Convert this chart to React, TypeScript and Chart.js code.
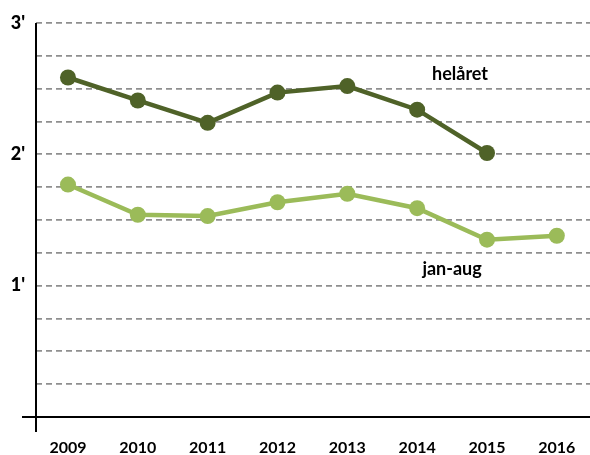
import React, { useEffect, useRef } from "react";
import { Chart, registerables } from "chart.js";

Chart.register(...registerables);

const years = [2009, 2010, 2011, 2012, 2013, 2014, 2015, 2016];
const helaret = [2.585, 2.41, 2.24, 2.47, 2.52, 2.34, 2.01, null];
const janAug = [1.77, 1.54, 1.53, 1.635, 1.70, 1.59, 1.35, 1.38];
const yLabels: Record<number, string> = { 1: "1'", 2: "2'", 3: "3'" };
const annotations = [
  { text: "helåret", year: 2014.614, value: 2.61 },
  { text: "jan-aug", year: 2014.5, value: 1.125 },
];

const FONT = "Lato, 'Open Sans', sans-serif";

const overlay = {
  id: "overlay",
  afterDraw(chart: any) {
    const { ctx, chartArea, scales } = chart;
    const x = scales.x;
    const y = scales.y;
    ctx.save();
    ctx.strokeStyle = "#000";
    ctx.lineWidth = 2;
    ctx.beginPath();
    ctx.moveTo(chartArea.left, chartArea.top);
    ctx.lineTo(chartArea.left, chartArea.bottom + 15);
    ctx.moveTo(chartArea.left - 14, chartArea.bottom);
    ctx.lineTo(chartArea.right, chartArea.bottom);
    ctx.stroke();
    ctx.fillStyle = "#000";
    ctx.font = `bold 18px ${FONT}`;
    ctx.textAlign = "center";
    ctx.textBaseline = "middle";
    annotations.forEach((a) => {
      ctx.fillText(a.text, x.getPixelForValue(a.year), y.getPixelForValue(a.value));
    });
    ctx.restore();
  },
};

export default function App() {
  const ref = useRef<HTMLCanvasElement>(null);
  useEffect(() => {
    if (!ref.current) return;
    const chart = new Chart(ref.current, {
      type: "line",
      data: {
        datasets: [
          {
            label: "helåret",
            data: years.map((yr, i) => ({ x: yr, y: helaret[i] })) as any,
            borderColor: "#4F6228",
            backgroundColor: "#4F6228",
            borderWidth: 4.5,
            pointRadius: 8,
            pointHoverRadius: 8,
            pointBorderWidth: 0,
            spanGaps: false,
          },
          {
            label: "jan-aug",
            data: years.map((yr, i) => ({ x: yr, y: janAug[i] })) as any,
            borderColor: "#9BBB59",
            backgroundColor: "#9BBB59",
            borderWidth: 4.5,
            pointRadius: 8,
            pointHoverRadius: 8,
            pointBorderWidth: 0,
          },
        ],
      },
      options: {
        responsive: false,
        animation: false,
        layout: { autoPadding: false, padding: { top: 23, right: 0, left: 0, bottom: 0 } },
        plugins: { legend: { display: false }, tooltip: { enabled: false } },
        scales: {
          x: {
            type: "linear",
            min: 2008.542,
            max: 2016.475,
            afterBuildTicks: (axis: any) => {
              axis.ticks = years.map((v) => ({ value: v }));
            },
            afterFit: (axis: any) => {
              axis.height = 38;
              axis.paddingLeft = 0;
              axis.paddingRight = 0;
            },
            grid: { display: false, drawTicks: false },
            border: { display: false },
            ticks: {
              padding: 21,
              color: "#000",
              font: { family: FONT, size: 16, weight: "bold" },
              callback: (v: any) => String(v),
              maxRotation: 0,
              autoSkip: false,
            },
          },
          y: {
            min: 0,
            max: 3,
            afterFit: (axis: any) => {
              axis.width = 36;
              axis.paddingTop = 0;
              axis.paddingBottom = 0;
            },
            grid: {
              drawTicks: false,
              color: (c: any) => (c.tick && c.tick.value === 0 ? "rgba(0,0,0,0)" : "#8f8f8f"),
              lineWidth: 1.8,
            },
            border: { display: false, dash: [6, 4] },
            ticks: {
              stepSize: 0.25,
              padding: 11,
              color: "#000",
              font: { family: FONT, size: 18, weight: "900" },
              callback: (v: any) => yLabels[v] ?? "",
              autoSkip: false,
            },
          },
        },
      },
      plugins: [overlay],
    } as any);
    return () => chart.destroy();
  }, []);
  return (
    <div style={{ position: "absolute", left: 0, top: 0, width: 590, height: 455, background: "#fff" }}>
      <canvas ref={ref} width={590} height={455} style={{ width: 590, height: 455 }} />
    </div>
  );
}
